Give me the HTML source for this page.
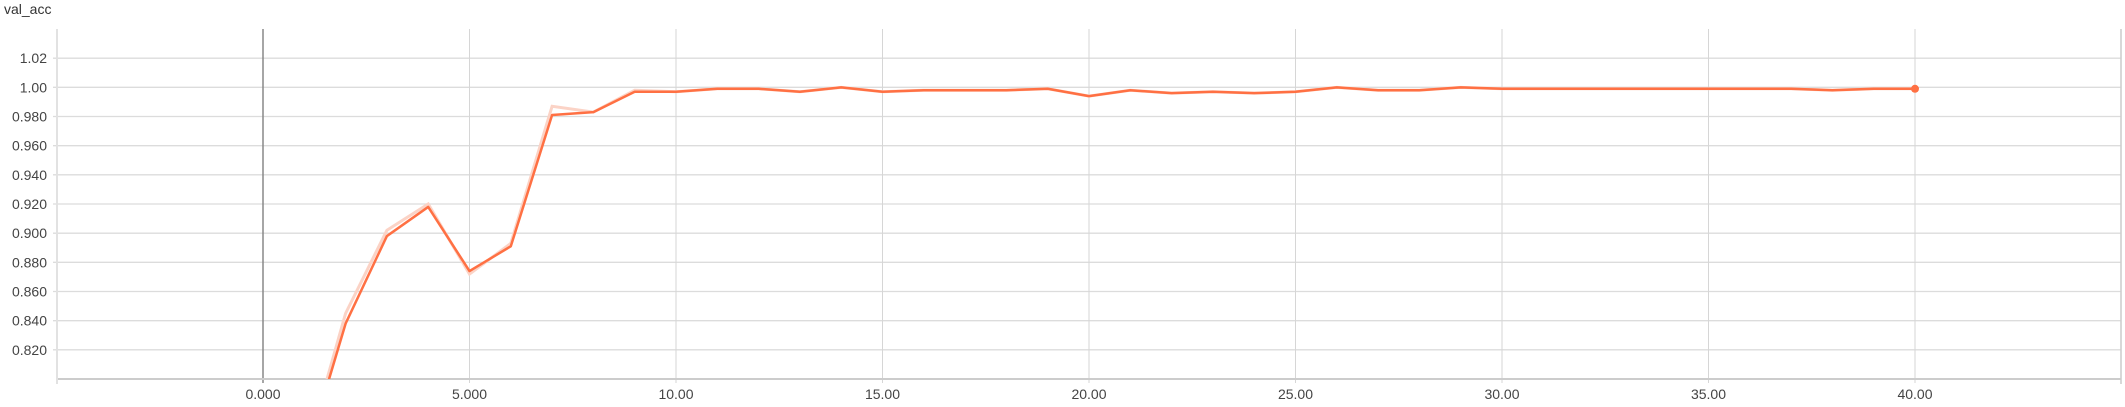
<!DOCTYPE html>
<html><head><meta charset="utf-8"><style>
html,body{margin:0;padding:0;background:#fff;width:2125px;height:407px;overflow:hidden;font-family:"Liberation Sans",sans-serif;position:relative;}
#title{position:absolute;left:4px;top:1px;font-size:14px;line-height:16px;color:#333;}
svg{display:block;overflow:hidden;}
</style></head><body>
<div id="title">val_acc</div>
<svg id="chart" width="2125" height="407" style="position:absolute;left:0;top:0"></svg>
<script>
const steps=[1,2,3,4,5,6,7,8,9,10,11,12,13,14,15,16,17,18,19,20,21,22,23,24,25,26,27,28,29,30,31,32,33,34,35,36,37,38,39,40];
const smoothed=[0.743,0.838,0.898,0.918,0.874,0.891,0.981,0.983,0.997,0.997,0.999,0.999,0.997,1.000,0.997,0.998,0.998,0.998,0.999,0.994,0.998,0.996,0.997,0.996,0.997,1.000,0.998,0.998,1.000,0.999,0.999,0.999,0.999,0.999,0.999,0.999,0.999,0.998,0.999,0.999];
const raw=[0.745,0.845,0.902,0.920,0.872,0.893,0.987,0.983,0.998,0.997,0.999,0.999,0.997,1.000,0.997,0.998,0.998,0.998,0.999,0.994,0.998,0.996,0.997,0.996,0.997,1.000,0.998,0.998,1.000,0.999,0.999,0.999,0.999,0.999,0.999,0.999,0.999,0.998,0.999,0.999];
const xTicks=[0,5,10,15,20,25,30,35,40];
const xTickLabels=["0.000","5.000","10.00","15.00","20.00","25.00","30.00","35.00","40.00"];
const yTicks=[0.82,0.84,0.86,0.88,0.90,0.92,0.94,0.96,0.98,1.00,1.02];
const yTickLabels=["0.820","0.840","0.860","0.880","0.900","0.920","0.940","0.960","0.980","1.00","1.02"];

const L=57,R=2121,T=29,B=379;
const x=v=>263+v*41.3;
const y=v=>B-(v-0.80)/(0.24)*(B-T);
const svg=document.getElementById('chart');
const NS='http://www.w3.org/2000/svg';
function mk(tag,attrs){const e=document.createElementNS(NS,tag);for(const k in attrs)e.setAttribute(k,attrs[k]);svg.appendChild(e);return e;}

yTicks.forEach((t,i)=>{
  const g=mk('line',{x1:L-4,x2:R,y1:y(t),y2:y(t),stroke:'#dcdcdc','stroke-width':1.3});
  
  
  const tx=mk('text',{x:L-10,y:y(t)+5,'text-anchor':'end','font-size':14,fill:'#444'});
  tx.textContent=yTickLabels[i];
  
  
});
xTicks.forEach((t,i)=>{
  const g=mk('line',{x1:x(t),x2:x(t),y1:T,y2:B+4,stroke:t===0?'#888':'#d6d6d6','stroke-width':t===0?1.5:1});
  
  
  const tx=mk('text',{x:x(t),y:399,'text-anchor':'middle','font-size':14,fill:'#444'});
  tx.textContent=xTickLabels[i];
  
  
});
const ax=mk('line',{x1:L,x2:R,y1:B,y2:B,stroke:'#ccc','stroke-width':2});


const ay=mk('line',{x1:L,x2:L,y1:T,y2:B+5,stroke:'#e2e2e2','stroke-width':2});


const ar=mk('line',{x1:R,x2:R,y1:T,y2:B+5,stroke:'#ccc','stroke-width':1.5});



const clip=mk('clipPath',{id:'plotclip'});
const cr=document.createElementNS(NS,'rect');
cr.setAttribute('x',L);cr.setAttribute('y',T);cr.setAttribute('width',R-L);cr.setAttribute('height',B-T);
clip.appendChild(cr);

const pr=mk('polyline',{points:steps.map((s,i)=>x(s)+','+y(raw[i])).join(' '),fill:'none',stroke:'#fbd3c6','stroke-width':3,'clip-path':'url(#plotclip)'});


const ps=mk('polyline',{points:steps.map((s,i)=>x(s)+','+y(smoothed[i])).join(' '),fill:'none',stroke:'#ff7043','stroke-width':2.5,'stroke-linejoin':'round','clip-path':'url(#plotclip)'});


const n=steps.length-1;
const dot=mk('circle',{cx:x(steps[n]),cy:y(smoothed[n]),r:4,fill:'#ff7043'});


</script>
</body></html>
